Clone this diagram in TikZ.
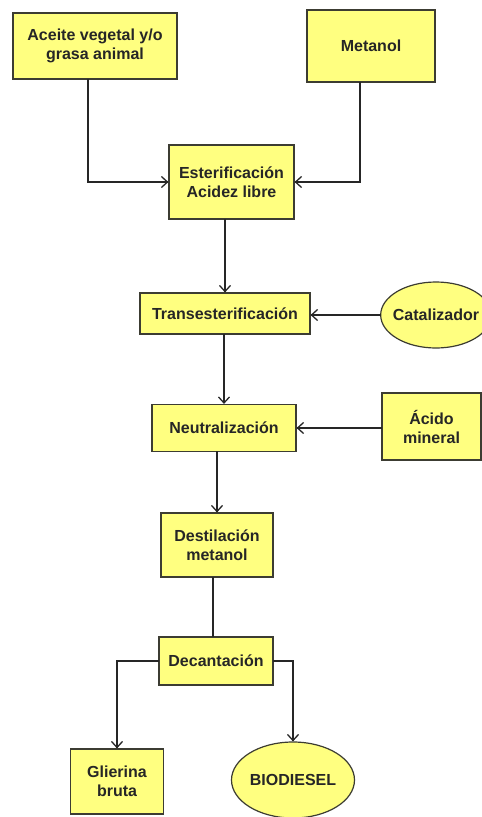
\documentclass[tikz,border=0pt]{standalone}
\usepackage{fontspec}
\setmainfont{Liberation Sans}
\usetikzlibrary{arrows.meta,shapes.geometric}
\definecolor{cajaamarilla}{RGB}{255,255,128}
\definecolor{bordegris}{RGB}{60,60,50}
\tikzset{
  caja/.style={draw=bordegris, line width=1.2pt, fill=cajaamarilla, align=center,
    inner sep=2pt, font=\fontsize{16}{19}\selectfont\bfseries, text=black!85},
  elipse/.style={caja, ellipse, inner sep=0pt},
  flujo/.style={line width=1.8pt, black!85, line cap=rect},
}
\begin{document}
\begin{tikzpicture}[x=1pt,y=-1pt,>={Straight Barb[length=6pt,width=11pt,line width=1.3pt]}]
    \useasboundingbox[fill=white] (0,0) rectangle (482,817);
    % entradas
    \node[caja, minimum width=164, minimum height=66] (aceite) at (95,46) {Aceite vegetal y/o\\grasa animal};
    \node[caja, minimum width=128, minimum height=72] (metanol) at (371,46) {Metanol};
    % proceso
    \node[caja, minimum width=125, minimum height=74] (ester) at (231.5,182) {Esterificación\\Acidez libre};
    \node[caja, minimum width=170, minimum height=41] (trans) at (225,313.5) {Transesterificación};
    \node[elipse, inner xsep=-4pt, minimum height=66] (cat) at (436,315) {Catalizador};
    \node[caja, minimum width=144, minimum height=47] (neutra) at (224,428) {Neutralización};
    \node[caja, minimum width=99, minimum height=67] (acido) at (431.5,426.5) {Ácido\\mineral};
    \node[caja, minimum width=112, minimum height=64] (destil) at (217,545) {Destilación\\metanol};
    \node[caja, minimum width=114, minimum height=48] (decant) at (216,661) {Decantación};
    % salidas
    \node[caja, minimum width=93, minimum height=65] (gli) at (117,781.5) {Glierina\\bruta};
    \node[elipse, minimum width=123, minimum height=76] (bio) at (293,780) {BIODIESEL};
    % conexiones
    \draw[flujo,->] ([xshift=-7]aceite.south) |- (ester.west);
    \draw[flujo,->] ([xshift=-11]metanol.south) |- (ester.east);
    \draw[flujo,->] (ester.south -| trans) -- (trans.north);
    \draw[flujo,->] (cat.west) -- (trans.east |- cat.west);
    \draw[flujo,->] (trans.south -| neutra) -- (neutra.north);
    \draw[flujo,->] (acido.west |- neutra) -- (neutra.east);
    \draw[flujo,->] (neutra.south -| destil) -- (destil.north);
    \draw[flujo] ([xshift=-4]destil.south) -- ([xshift=-4]destil.south |- decant.north);
    \draw[flujo,->] (decant.west) -| (gli.north);
    \draw[flujo,->] (decant.east) -| (bio.north);
\end{tikzpicture}
\end{document}
